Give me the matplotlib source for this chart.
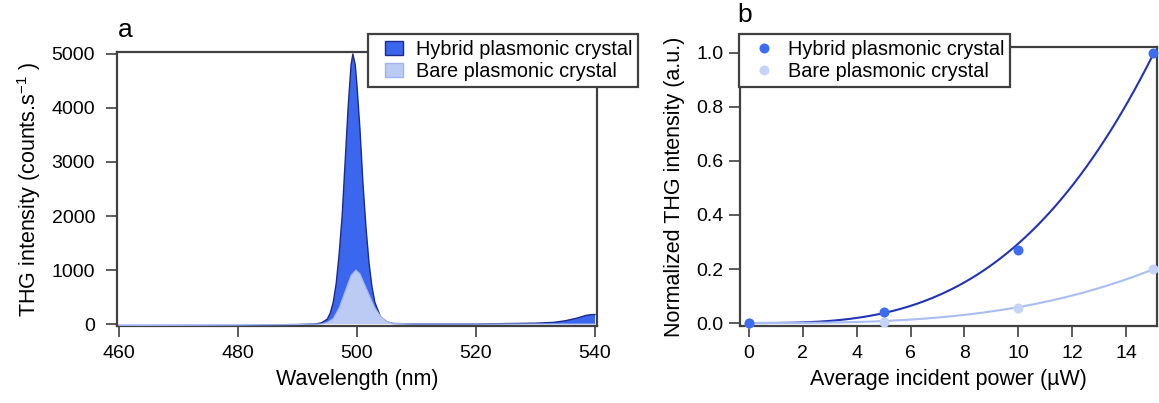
import matplotlib
matplotlib.use("Agg")
import matplotlib.pyplot as plt
import numpy as np
from matplotlib.patches import Patch, Rectangle
from matplotlib.lines import Line2D
from matplotlib.legend_handler import HandlerPatch

plt.rcParams['font.family'] = ['Liberation Sans', 'DejaVu Sans']

# ---- Panel a data: THG spectra ----
wl_hybrid = [460, 470, 480, 490, 493, 494, 495, 495.5, 496, 496.5, 497, 497.5, 498, 498.5,
             499, 499.3, 499.7, 500, 500.5, 501, 501.5, 502, 502.5, 503, 504, 505, 506,
             510, 520, 530, 533, 535, 537, 538.5, 539.5, 540]
int_hybrid = [-30, -25, -20, -10, 0, 20, 90, 200, 400, 750, 1300, 2000, 3000, 4000,
              4800, 5000, 4800, 4400, 3600, 2600, 1800, 1150, 700, 400, 120, 40, 10,
              0, 0, 15, 30, 60, 110, 160, 175, 175]

wl_bare = [460, 480, 490, 494, 495, 496, 497, 498, 499, 499.8, 500.5, 501, 502, 503,
           504, 505, 506, 510, 540]
int_bare = [-30, -20, -10, 0, 30, 100, 300, 600, 900, 1000, 930, 800, 550, 300,
            140, 50, 10, 0, 0]

# ---- Panel b data: power dependence ----
power = [0, 5, 10, 15]
norm_hybrid = [0.0, 0.04, 0.27, 1.0]
norm_bare = [0.0, 0.005, 0.055, 0.2]

labels = ["Hybrid plasmonic crystal", "Bare plasmonic crystal"]

c_hyb_fill = "#3b67ef"
c_hyb_edge = "#1b2a8c"
c_bare_fill = "#bccbf4"
c_bare_edge = "#9fb3ee"
c_hyb_line = "#2233b5"
c_bare_line = "#a9bdf2"
c_hyb_mark = "#3d6cf0"
c_bare_mark = "#c5d3f7"
spine_c = "#404040"

W, H = 1159, 403
fig = plt.figure(figsize=(W / 100, H / 100), dpi=100)

def fig_rect(x0, y0, x1, y1):
    return [x0 / W, 1 - y1 / H, (x1 - x0) / W, (y1 - y0) / H]

fs_tick = 14
fs_lab = 15.5
fs_leg = 14.3

def style(ax, ypad):
    for s in ax.spines.values():
        s.set_color(spine_c)
        s.set_linewidth(1.6)
    ax.tick_params(direction='out', length=7.8, width=1.2, color=spine_c,
                   labelsize=fs_tick, top=False, right=False)
    ax.tick_params(axis='x', pad=6)
    ax.tick_params(axis='y', pad=ypad)


def right_patch(legend, orig_handle, xdescent, ydescent, width, height, fontsize):
    pw, ph = 13.0, 9.5
    return Rectangle((-xdescent + width - pw, -ydescent + (height - ph) / 2), pw, ph)

# Panel a
axa = fig.add_axes(fig_rect(117, 52, 596.5, 326))
axa.fill_between(wl_hybrid, int_hybrid, 0, facecolor=c_hyb_fill, edgecolor='none', zorder=2)
axa.plot(wl_hybrid, int_hybrid, color=c_hyb_edge, lw=1.0, zorder=3)
axa.fill_between(wl_bare, int_bare, 0, facecolor=c_bare_fill, edgecolor='none', zorder=4)
axa.plot(wl_bare, int_bare, color=c_bare_edge, lw=0.8, zorder=5)
axa.set_xlim(459.66, 540.25)
axa.set_ylim(-37, 5037)
axa.set_xticks([460, 480, 500, 520, 540])
axa.set_yticks([0, 1000, 2000, 3000, 4000, 5000])
style(axa, 8)
axa.set_xlabel("Wavelength (nm)", fontsize=fs_lab, labelpad=5)
axa.set_ylabel(r"THG intensity (counts.s$^{\mathregular{-1}}$ )", fontsize=fs_lab, labelpad=6)

handles_a = [Patch(facecolor=c_hyb_fill, edgecolor=c_hyb_edge, lw=1.0),
             Patch(facecolor=c_bare_fill, edgecolor=c_bare_edge, lw=1.0)]
hmap = {h: HandlerPatch(patch_func=right_patch) for h in handles_a}
lega = fig.legend(handles_a, labels, loc='upper left', handler_map=hmap,
                  bbox_to_anchor=(368 / W, 1 - 34 / H), fontsize=fs_leg,
                  frameon=True, fancybox=False, borderaxespad=0,
                  handlelength=1.46, handleheight=0.7, handletextpad=0.65,
                  borderpad=0.3, labelspacing=0.15)
lega.get_frame().set_edgecolor(spine_c)
lega.get_frame().set_linewidth(1.6)
lega.get_frame().set_alpha(1)

fig.text(125 / W, 1 - 30 / H, "a", fontsize=19, ha='center', va='center')

# Panel b
axb = fig.add_axes(fig_rect(740, 47, 1157, 326))
xs = np.array(power, dtype=float)
xfit = np.linspace(0, 15, 200)
for ys, lc in [(norm_hybrid, c_hyb_line), (norm_bare, c_bare_line)]:
    ys = np.array(ys)
    a = np.sum(ys * xs ** 3) / np.sum(xs ** 6)
    axb.plot(xfit, a * xfit ** 3, color=lc, lw=1.5, zorder=2)
for ys, mc in [(norm_bare, c_bare_mark), (norm_hybrid, c_hyb_mark)]:
    axb.plot(power, ys, 'o', color=mc, ms=7.2, mec='none', zorder=3, clip_on=False)
axb.set_xlim(-0.334, 15.15)
axb.set_ylim(-0.011, 1.022)
axb.set_xticks(range(0, 15, 2))
axb.set_yticks([0.0, 0.2, 0.4, 0.6, 0.8, 1.0])
axb.set_yticklabels(["0.0", "0.2", "0.4", "0.6", "0.8", "1.0"])
style(axb, 4)
axb.set_xlabel("Average incident power (\u00b5W)", fontsize=fs_lab, labelpad=5)
axb.set_ylabel("Normalized THG intensity (a.u.)", fontsize=fs_lab, labelpad=8)

handles_b = [Line2D([], [], ls='none', marker='o', color=c_hyb_mark, ms=7.2, mec='none'),
             Line2D([], [], ls='none', marker='o', color=c_bare_mark, ms=7.2, mec='none')]
legb = fig.legend(handles_b, labels, loc='upper left',
                  bbox_to_anchor=(739 / W, 1 - 34 / H), fontsize=fs_leg,
                  frameon=True, fancybox=False, borderaxespad=0,
                  handlelength=1.9, handletextpad=0.25,
                  borderpad=0.3, labelspacing=0.15)
legb.get_frame().set_edgecolor(spine_c)
legb.get_frame().set_linewidth(1.6)
legb.get_frame().set_alpha(1)

fig.text(745 / W, 1 - 15 / H, "b", fontsize=19, ha='center', va='center')

fig.savefig("out.png", dpi=100)
